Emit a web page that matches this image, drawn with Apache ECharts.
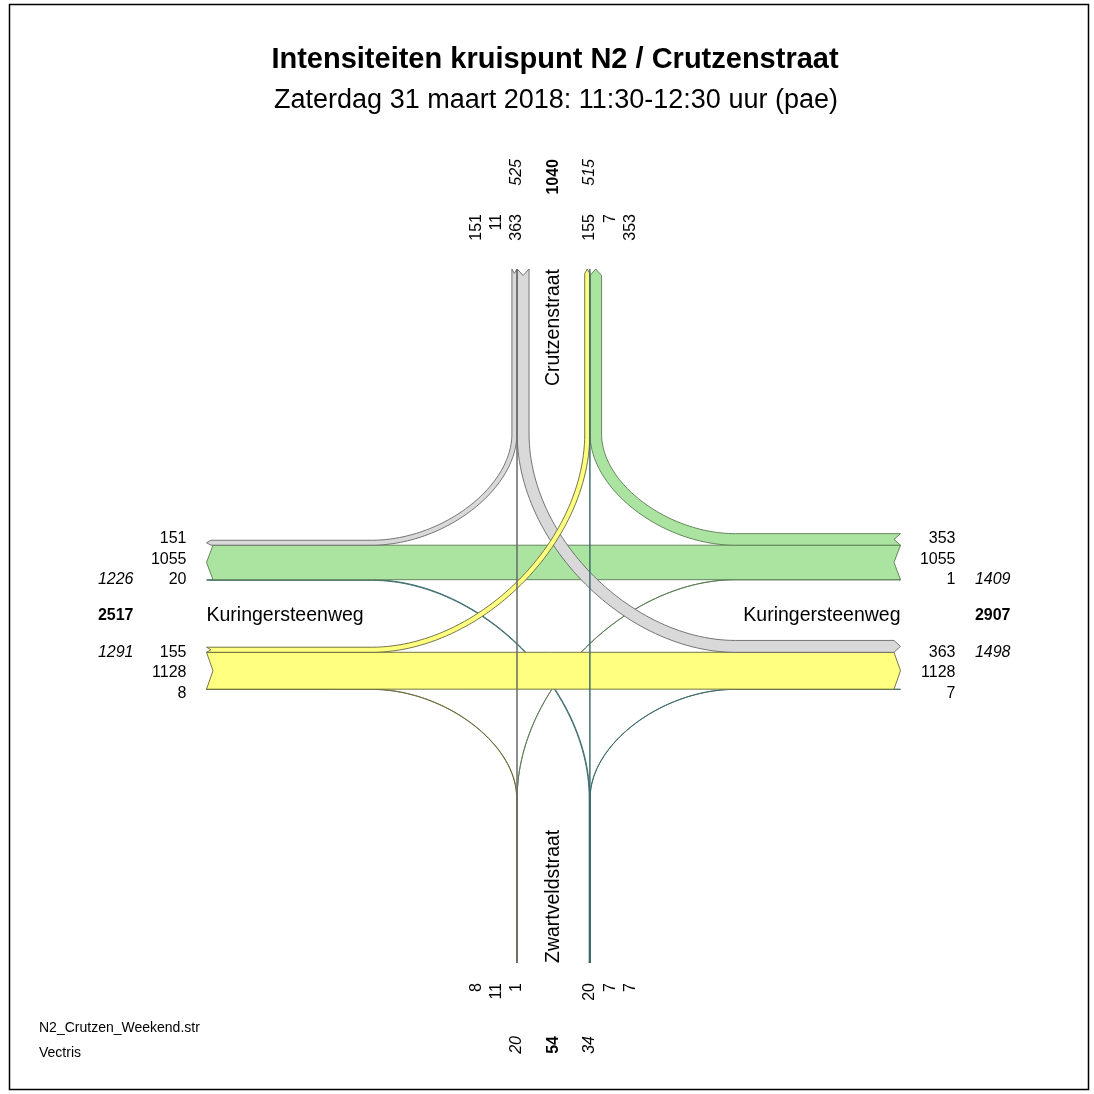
<!DOCTYPE html>
<html>
<head>
<meta charset="utf-8">
<title>Intensiteiten kruispunt N2 / Crutzenstraat</title>
<script src="https://cdn.jsdelivr.net/npm/echarts@6.0.0/dist/echarts.min.js"></script>
<style>
  html, body { margin: 0; padding: 0; background: #ffffff; }
  #chart { width: 1094px; height: 1094px; }
</style>
</head>
<body>
<div id="chart"></div>
<script>
// ---- Data -------------------------------------------------------------
// Arms in clockwise order: north, east, south, west
const armCodes = ['N', 'E', 'S', 'W'];
const streetNames = ['Crutzenstraat', 'Kuringersteenweg', 'Zwartveldstraat', 'Kuringersteenweg'];

// Counted volumes (pae) per approach, as [left, straight, right]
const fromNorth = [363, 11, 151];
const fromEast  = [1, 1055, 353];
const fromSouth = [20, 7, 7];
const fromWest  = [155, 1128, 8];

const titleText = 'Intensiteiten kruispunt N2 / Crutzenstraat';
const subtitleText = 'Zaterdag 31 maart 2018: 11:30-12:30 uur (pae)';
const footerLines = ['N2_Crutzen_Weekend.str', 'Vectris'];

// ---- Style & layout ---------------------------------------------------
const armFill = ['#d9d9d9', '#abe3a0', '#7fa8a8', '#ffff80'];
const armEdge = ['#666666', '#587a50', '#3a6868', '#66663a'];
const FONT = '"Liberation Sans", Arial, Helvetica, sans-serif';

const SIZE = 1094;
const CX = 553.5, CY = 616;   // junction centre on the canvas
const UNIT = 0.0327;          // band width per pae
const INNER = 36.3;           // offset of the through lanes from the road axis
const ARM = 347;              // length of each arm
const BEND = 182;             // where turning bands leave / join an arm
const HANDLE = 0.5;           // bezier handle ratio of the turning curves
const LAB0 = 36.5, LABSTEP = 20.3;

const flows = [fromNorth, fromEast, fromSouth, fromWest];
// outward direction of each arm (y up) and the driver's right-hand side when entering
const DIR = [[0, 1], [1, 0], [0, -1], [-1, 0]];
const SIDE = DIR.map(([x, y]) => [-y, x]);

function armPoint(arm, dist, lat, sgn) {
  return [dist * DIR[arm][0] + lat * sgn * SIDE[arm][0],
          dist * DIR[arm][1] + lat * sgn * SIDE[arm][1]];
}
function stack(l, s, r) {
  return [[INNER - l, INNER], [INNER, INNER + s], [INNER + s, INNER + s + r]];
}
// lateral bands of traffic entering from arm i, indexed by turn
function inLanes(i) {
  const f = flows[i];
  return stack(f[0] * UNIT, f[1] * UNIT, f[2] * UNIT);
}
// lateral bands of traffic leaving by arm j, indexed by the turn it made
function outLanes(j) {
  return stack(flows[(j + 3) % 4][0] * UNIT, flows[(j + 2) % 4][1] * UNIT, flows[(j + 1) % 4][2] * UNIT);
}
const mix = (p, q, k) => [p[0] + (q[0] - p[0]) * k, p[1] + (q[1] - p[1]) * k];
function cubic(p0, p1, p2, p3, t) {
  const u = 1 - t;
  const a = u * u * u, b = 3 * u * u * t, c = 3 * u * t * t, d = t * t * t;
  return [a * p0[0] + b * p1[0] + c * p2[0] + d * p3[0],
          a * p0[1] + b * p1[1] + c * p2[1] + d * p3[1]];
}
function edgePath(o, t, d, la, lb, depth) {
  const start = armPoint(o, ARM, la, 1);
  const end = armPoint(d, ARM - depth, lb, -1);
  if (t === 1) return [start, end];
  const s0 = armPoint(o, BEND, la, 1);
  const e0 = armPoint(d, BEND, lb, -1);
  const da = DIR[o], db = DIR[d];
  const pb = s0[0] * db[0] + s0[1] * db[1];
  const pa = e0[0] * da[0] + e0[1] * da[1];
  const corner = [pb * db[0] + pa * da[0], pb * db[1] + pa * da[1]];
  const c1 = mix(s0, corner, HANDLE), c2 = mix(e0, corner, HANDLE);
  const pts = [start];
  const N = 60;
  for (let k = 0; k <= N; k++) pts.push(cubic(s0, c1, c2, e0, k / N));
  pts.push(end);
  return pts;
}

// one item per movement: [origin arm, turn (0 left, 1 straight, 2 right), volume]
const movements = [];
flows.forEach((arr, o) => arr.forEach((v, t) => movements.push([o, t, v])));
function layer(m) {
  const thin = m[2] * UNIT < 1.5;
  return m[1] === 1 ? (thin ? 3 : 1) : (thin ? 0 : 2);
}
movements.sort((p, q) => layer(p) - layer(q));

function renderFlow(params, api) {
  const o = api.value(0), t = api.value(1), v = api.value(2);
  const d = (o + 1 + t) % 4;
  const w = v * UNIT;
  const [a0, a1] = inLanes(o)[t];
  const [b0, b1] = outLanes(d)[t];
  const depth = Math.min(6.5, 1.5 + 0.6 * w);
  const hi = edgePath(o, t, d, a1, b1, depth);
  const lo = edgePath(o, t, d, a0, b0, depth).reverse();
  const tip = armPoint(d, ARM, (b0 + b1) / 2, -1);
  const notch = armPoint(o, ARM - depth, (a0 + a1) / 2, 1);
  const pts = hi.concat([tip], lo, [notch]).map(p => api.coord(p));
  return {
    type: 'polygon',
    shape: { points: pts },
    style: { fill: armFill[o], stroke: armEdge[o], lineWidth: 0.9 }
  };
}

// ---- Labels per arm -----------------------------------------------------
const sum = a => a.reduce((s, x) => s + x, 0);
const labels = [];
for (let i = 0; i < 4; i++) {
  const inbound = flows[i];
  const outbound = [flows[(i + 3) % 4][0], flows[(i + 2) % 4][1], flows[(i + 1) % 4][2]];
  inbound.forEach((v, row) => labels.push({ arm: i, side: 1, row, kind: 'num', text: String(v) }));
  outbound.forEach((v, row) => labels.push({ arm: i, side: -1, row, kind: 'num', text: String(v) }));
  labels.push({ arm: i, side: 1, row: 0, kind: 'sum', text: String(sum(inbound)) });
  labels.push({ arm: i, side: -1, row: 0, kind: 'sum', text: String(sum(outbound)) });
  labels.push({ arm: i, side: 1, row: 0, kind: 'total', text: String(sum(inbound) + sum(outbound)) });
  labels.push({ arm: i, side: 1, row: 0, kind: 'name', text: streetNames[i] });
}

function renderLabel(params, api) {
  const rec = labels[api.value(0)];
  const i = rec.arm;
  const vertical = i % 2 === 0;
  const read = vertical ? [0, 1] : [1, 0];
  const same = DIR[i][0] * read[0] + DIR[i][1] * read[1] > 0;
  let dist, lat, font, align = 'right';
  if (rec.kind === 'num') {
    dist = same ? ARM + 55 : ARM + 20;
    lat = LAB0 + rec.row * LABSTEP;
    font = '16px ' + FONT;
  } else if (rec.kind === 'sum') {
    dist = same ? ARM + 110 : ARM + 73;
    lat = LAB0;
    font = 'italic 16px ' + FONT;
  } else if (rec.kind === 'total') {
    dist = same ? ARM + 110 : ARM + 73;
    lat = 0;
    font = 'bold 16px ' + FONT;
  } else {
    dist = ARM;
    lat = 0;
    align = same ? 'right' : 'left';
    font = '19.5px ' + FONT;
  }
  const [x, y] = api.coord(armPoint(i, dist, lat, rec.side));
  return {
    type: 'text',
    x, y,
    rotation: vertical ? Math.PI / 2 : 0,
    style: {
      text: rec.text, font, fill: '#000',
      align, verticalAlign: 'middle',
      textAlign: align, textVerticalAlign: 'middle'
    }
  };
}

// ---- Chart --------------------------------------------------------------
const chart = echarts.init(document.getElementById('chart'), null, { renderer: 'canvas' });
const txt = (x, y, text, font, align) => ({
  type: 'text', x, y, silent: true,
  style: { text, font, fill: '#000', align, verticalAlign: 'middle', textAlign: align, textVerticalAlign: 'middle' }
});
chart.setOption({
  animation: false,
  backgroundColor: '#ffffff',
  grid: { left: 0, right: 0, top: 0, bottom: 0 },
  xAxis: { type: 'value', min: -CX, max: SIZE - CX, show: false },
  yAxis: { type: 'value', min: -(SIZE - CY), max: CY, show: false },
  graphic: [
    { type: 'rect', silent: true, shape: { x: 9.5, y: 4.5, width: 1079, height: 1085 },
      style: { fill: 'transparent', stroke: '#000', lineWidth: 1.5 } },
    txt(555, 60, titleText, 'bold 29px ' + FONT, 'center'),
    txt(556, 101, subtitleText, '27px ' + FONT, 'center'),
    txt(39, 1028, footerLines[0], '14px ' + FONT, 'left'),
    txt(39, 1053, footerLines[1], '14px ' + FONT, 'left')
  ],
  series: [
    {
      type: 'custom', name: 'stromen', silent: true,
      coordinateSystem: 'cartesian2d',
      data: movements,
      encode: { x: 0, y: 1 },
      renderItem: renderFlow
    },
    {
      type: 'custom', name: 'labels', silent: true,
      coordinateSystem: 'cartesian2d',
      data: labels.map((r, k) => [k, 0]),
      encode: { x: 0, y: 1 },
      renderItem: renderLabel
    }
  ]
});
</script>
</body>
</html>
